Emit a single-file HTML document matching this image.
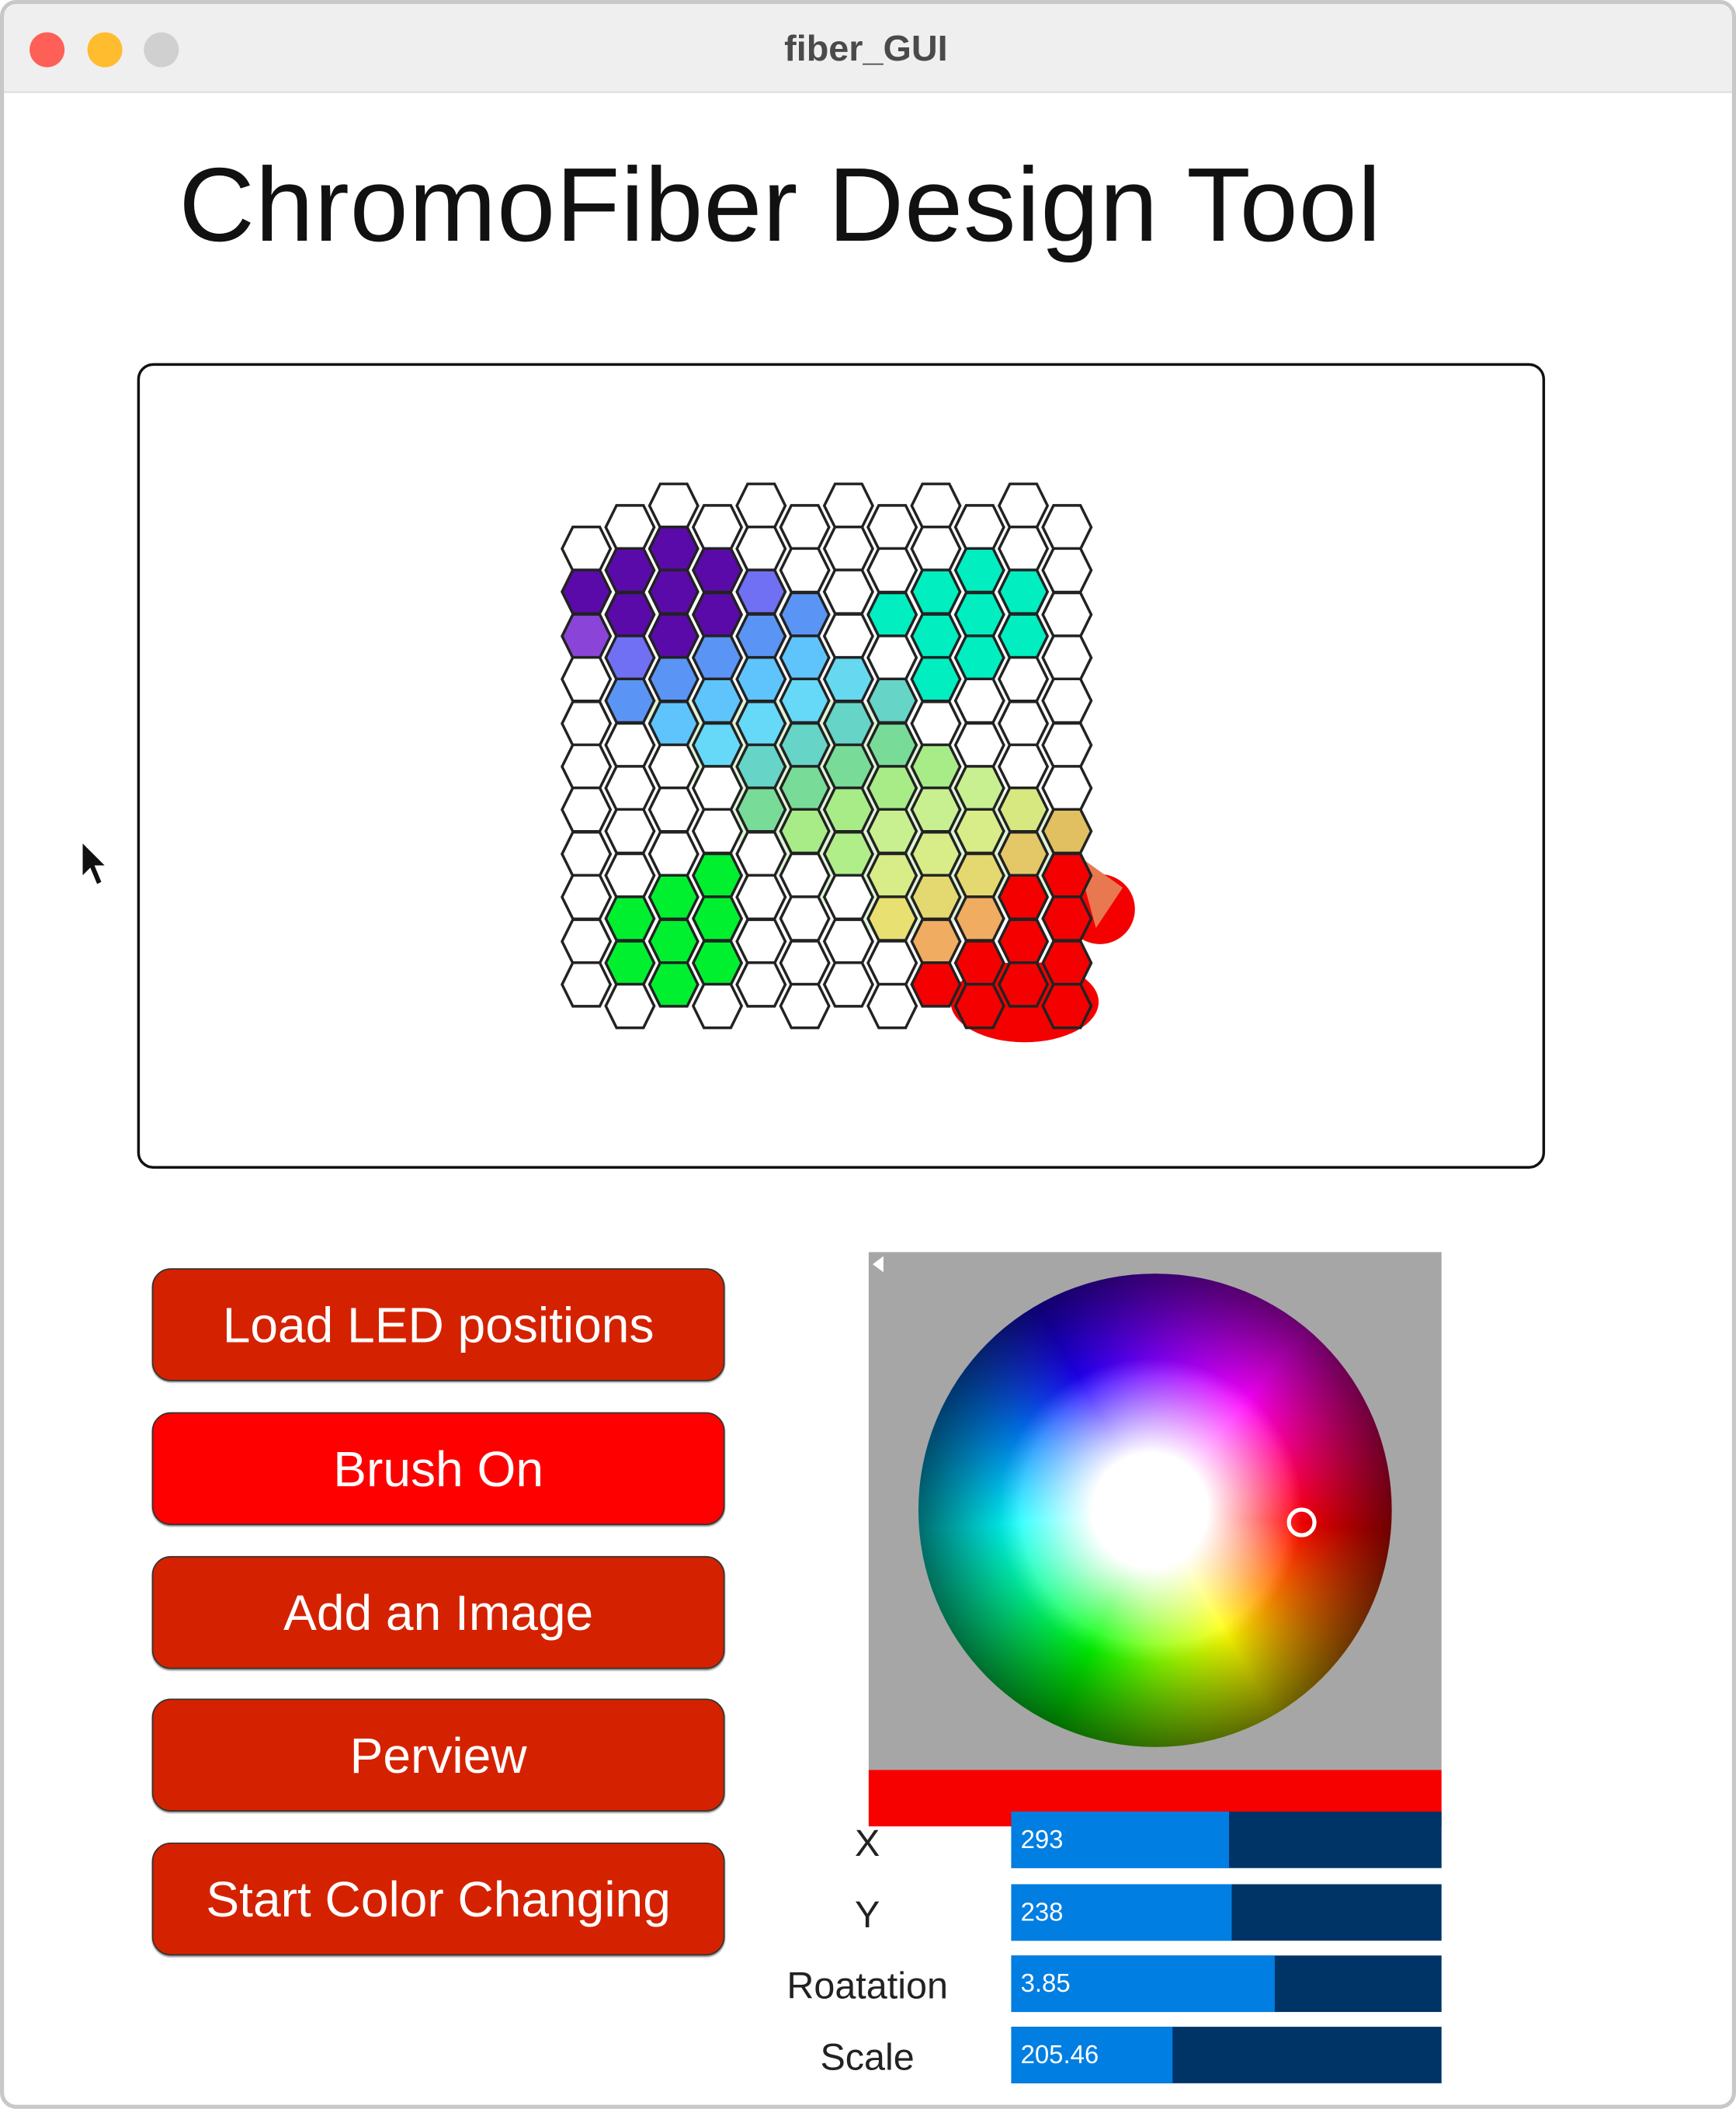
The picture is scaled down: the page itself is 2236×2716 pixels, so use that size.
<!DOCTYPE html>
<html><head><meta charset="utf-8">
<style>
html,body{margin:0;padding:0;background:#fff;}
body{width:2236px;height:2716px;overflow:hidden;position:relative;}
#w{position:absolute;left:0;top:0;width:1291px;height:1568px;transform:scale(1.73199);transform-origin:0 0;font-family:"Liberation Sans",sans-serif;}
.a{position:absolute;}
.btn{position:absolute;left:113px;width:426px;height:84px;border:1.5px solid #333;border-radius:14px;background:#d42200;color:#fff;font-size:37px;text-align:center;line-height:84px;box-sizing:border-box;box-shadow:0 1px 1px rgba(0,0,0,.4);}
.lab{position:absolute;width:200px;left:545px;text-align:center;font-size:28px;color:#222;}
.sl{position:absolute;left:752px;width:320px;height:42px;background:#003366;}
.sl div{position:absolute;left:0;top:0;height:42px;background:#007ee2;}
.sl span{position:absolute;left:7px;top:11px;color:#fff;font-size:19px;}
</style></head><body>
<div id="w">
 <div class="a" style="left:0;top:0;width:1291px;height:1568px;border:3px solid #c8c8c8;border-radius:12px;box-sizing:border-box;background:#fff;"></div>
 <div class="a" style="left:3px;top:3px;width:1285px;height:65px;background:#efefef;border-bottom:1px solid #d8d8d8;border-radius:10px 10px 0 0;"></div>
 <div class="a" style="left:22px;top:24px;width:26px;height:26px;border-radius:50%;background:#fe5f57;"></div>
 <div class="a" style="left:65px;top:24px;width:26px;height:26px;border-radius:50%;background:#febc2e;"></div>
 <div class="a" style="left:107px;top:24px;width:26px;height:26px;border-radius:50%;background:#d0d0d0;"></div>
 <div class="a" style="left:444px;top:21px;width:400px;text-align:center;font-size:27px;font-weight:bold;color:#4a4a4a;">fiber_GUI</div>
 <div class="a" style="left:133px;top:107px;font-size:78px;letter-spacing:0.5px;color:#111;white-space:nowrap;">ChromoFiber Design Tool</div>
 <div class="a" style="left:102px;top:270px;width:1047px;height:599px;border:2px solid #111;border-radius:12px;box-sizing:border-box;"></div>
 <svg class="a" style="left:0;top:0" width="1291" height="1568" viewBox="0 0 1291 1568">
  <defs><polygon id="h" points="-18,0 -10,-16.2 10,-16.2 18,0 10,16.2 -10,16.2" stroke="#222" stroke-width="2"/></defs>
  <circle cx="818" cy="676" r="26" fill="#f40000"/>
  <path d="M800 635 L835 660 L815 690 Z" fill="#e87850"/>
  <ellipse cx="762" cy="745" rx="55" ry="30" fill="#f40000"/>
  <path d="M470 520 L640 520 L720 580 L800 610 L800 660 L660 700 L560 640 L500 560 Z" fill="#bfeab0" opacity=".5"/>
  <g>
  <use href="#h" x="436" y="408" fill="#fff"/><use href="#h" x="436" y="440" fill="#5a0aa8"/><use href="#h" x="436" y="473" fill="#8a44d8"/><use href="#h" x="436" y="505" fill="#fff"/><use href="#h" x="436" y="538" fill="#fff"/><use href="#h" x="436" y="570" fill="#fff"/><use href="#h" x="436" y="602" fill="#fff"/><use href="#h" x="436" y="635" fill="#fff"/><use href="#h" x="436" y="667" fill="#fff"/><use href="#h" x="436" y="700" fill="#fff"/><use href="#h" x="436" y="732" fill="#fff"/>
  <use href="#h" x="468.5" y="392" fill="#fff"/><use href="#h" x="468.5" y="424" fill="#5a0aa8"/><use href="#h" x="468.5" y="457" fill="#5a0aa8"/><use href="#h" x="468.5" y="489" fill="#7070f4"/><use href="#h" x="468.5" y="521" fill="#5a94f4"/><use href="#h" x="468.5" y="554" fill="#fff"/><use href="#h" x="468.5" y="586" fill="#fff"/><use href="#h" x="468.5" y="618" fill="#fff"/><use href="#h" x="468.5" y="651" fill="#fff"/><use href="#h" x="468.5" y="683" fill="#00f030"/><use href="#h" x="468.5" y="716" fill="#00f030"/><use href="#h" x="468.5" y="748" fill="#fff"/>
  <use href="#h" x="501" y="376" fill="#fff"/><use href="#h" x="501" y="408" fill="#5a0aa8"/><use href="#h" x="501" y="440" fill="#5a0aa8"/><use href="#h" x="501" y="473" fill="#5a0aa8"/><use href="#h" x="501" y="505" fill="#5a94f4"/><use href="#h" x="501" y="538" fill="#5ec4fb"/><use href="#h" x="501" y="570" fill="#fff"/><use href="#h" x="501" y="602" fill="#fff"/><use href="#h" x="501" y="635" fill="#fff"/><use href="#h" x="501" y="667" fill="#00f030"/><use href="#h" x="501" y="700" fill="#00f030"/><use href="#h" x="501" y="732" fill="#00f030"/>
  <use href="#h" x="533.5" y="392" fill="#fff"/><use href="#h" x="533.5" y="424" fill="#5a0aa8"/><use href="#h" x="533.5" y="457" fill="#5a0aa8"/><use href="#h" x="533.5" y="489" fill="#5a94f4"/><use href="#h" x="533.5" y="521" fill="#5ec4fb"/><use href="#h" x="533.5" y="554" fill="#66d8f8"/><use href="#h" x="533.5" y="586" fill="#fff"/><use href="#h" x="533.5" y="618" fill="#fff"/><use href="#h" x="533.5" y="651" fill="#00f030"/><use href="#h" x="533.5" y="683" fill="#00f030"/><use href="#h" x="533.5" y="716" fill="#00f030"/><use href="#h" x="533.5" y="748" fill="#fff"/>
  <use href="#h" x="566" y="376" fill="#fff"/><use href="#h" x="566" y="408" fill="#fff"/><use href="#h" x="566" y="440" fill="#7070f4"/><use href="#h" x="566" y="473" fill="#5a94f4"/><use href="#h" x="566" y="505" fill="#5ec4fb"/><use href="#h" x="566" y="538" fill="#66d8f8"/><use href="#h" x="566" y="570" fill="#66d4c6"/><use href="#h" x="566" y="602" fill="#78dc98"/><use href="#h" x="566" y="635" fill="#fff"/><use href="#h" x="566" y="667" fill="#fff"/><use href="#h" x="566" y="700" fill="#fff"/><use href="#h" x="566" y="732" fill="#fff"/>
  <use href="#h" x="598.5" y="392" fill="#fff"/><use href="#h" x="598.5" y="424" fill="#fff"/><use href="#h" x="598.5" y="457" fill="#5a94f4"/><use href="#h" x="598.5" y="489" fill="#5ec4fb"/><use href="#h" x="598.5" y="521" fill="#66d8f8"/><use href="#h" x="598.5" y="554" fill="#66d4c6"/><use href="#h" x="598.5" y="586" fill="#78dc98"/><use href="#h" x="598.5" y="618" fill="#a8ec88"/><use href="#h" x="598.5" y="651" fill="#fff"/><use href="#h" x="598.5" y="683" fill="#fff"/><use href="#h" x="598.5" y="716" fill="#fff"/><use href="#h" x="598.5" y="748" fill="#fff"/>
  <use href="#h" x="631" y="376" fill="#fff"/><use href="#h" x="631" y="408" fill="#fff"/><use href="#h" x="631" y="440" fill="#fff"/><use href="#h" x="631" y="473" fill="#fff"/><use href="#h" x="631" y="505" fill="#66d8f0"/><use href="#h" x="631" y="538" fill="#66d4c6"/><use href="#h" x="631" y="570" fill="#78dc98"/><use href="#h" x="631" y="602" fill="#a8ec88"/><use href="#h" x="631" y="635" fill="#b0ee8a"/><use href="#h" x="631" y="667" fill="#fff"/><use href="#h" x="631" y="700" fill="#fff"/><use href="#h" x="631" y="732" fill="#fff"/>
  <use href="#h" x="663.5" y="392" fill="#fff"/><use href="#h" x="663.5" y="424" fill="#fff"/><use href="#h" x="663.5" y="457" fill="#00eec0"/><use href="#h" x="663.5" y="489" fill="#fff"/><use href="#h" x="663.5" y="521" fill="#66d4c6"/><use href="#h" x="663.5" y="554" fill="#78dc98"/><use href="#h" x="663.5" y="586" fill="#a8ec88"/><use href="#h" x="663.5" y="618" fill="#c8f090"/><use href="#h" x="663.5" y="651" fill="#d8ec88"/><use href="#h" x="663.5" y="683" fill="#e8e070"/><use href="#h" x="663.5" y="716" fill="#fff"/><use href="#h" x="663.5" y="748" fill="#fff"/>
  <use href="#h" x="696" y="376" fill="#fff"/><use href="#h" x="696" y="408" fill="#fff"/><use href="#h" x="696" y="440" fill="#00eec0"/><use href="#h" x="696" y="473" fill="#00eec0"/><use href="#h" x="696" y="505" fill="#00eec0"/><use href="#h" x="696" y="538" fill="#fff"/><use href="#h" x="696" y="570" fill="#a8ec88"/><use href="#h" x="696" y="602" fill="#c8f090"/><use href="#h" x="696" y="635" fill="#d8ec88"/><use href="#h" x="696" y="667" fill="#e4d870"/><use href="#h" x="696" y="700" fill="#f0ac60"/><use href="#h" x="696" y="732" fill="#f40000"/>
  <use href="#h" x="728.5" y="392" fill="#fff"/><use href="#h" x="728.5" y="424" fill="#00eec0"/><use href="#h" x="728.5" y="457" fill="#00eec0"/><use href="#h" x="728.5" y="489" fill="#00eec0"/><use href="#h" x="728.5" y="521" fill="#fff"/><use href="#h" x="728.5" y="554" fill="#fff"/><use href="#h" x="728.5" y="586" fill="#c8f090"/><use href="#h" x="728.5" y="618" fill="#d8ec88"/><use href="#h" x="728.5" y="651" fill="#e4d870"/><use href="#h" x="728.5" y="683" fill="#f0ac60"/><use href="#h" x="728.5" y="716" fill="#f40000"/><use href="#h" x="728.5" y="748" fill="#f40000"/>
  <use href="#h" x="761" y="376" fill="#fff"/><use href="#h" x="761" y="408" fill="#fff"/><use href="#h" x="761" y="440" fill="#00eec0"/><use href="#h" x="761" y="473" fill="#00eec0"/><use href="#h" x="761" y="505" fill="#fff"/><use href="#h" x="761" y="538" fill="#fff"/><use href="#h" x="761" y="570" fill="#fff"/><use href="#h" x="761" y="602" fill="#d8e880"/><use href="#h" x="761" y="635" fill="#e4c868"/><use href="#h" x="761" y="667" fill="#f40000"/><use href="#h" x="761" y="700" fill="#f40000"/><use href="#h" x="761" y="732" fill="#f40000"/>
  <use href="#h" x="793.5" y="392" fill="#fff"/><use href="#h" x="793.5" y="424" fill="#fff"/><use href="#h" x="793.5" y="457" fill="#fff"/><use href="#h" x="793.5" y="489" fill="#fff"/><use href="#h" x="793.5" y="521" fill="#fff"/><use href="#h" x="793.5" y="554" fill="#fff"/><use href="#h" x="793.5" y="586" fill="#fff"/><use href="#h" x="793.5" y="618" fill="#e0c060"/><use href="#h" x="793.5" y="651" fill="#f40000"/><use href="#h" x="793.5" y="683" fill="#f40000"/><use href="#h" x="793.5" y="716" fill="#f40000"/><use href="#h" x="793.5" y="748" fill="#f40000"/>
  </g>
  <path d="M61 626 L61 652 L67 646 L72 658 L76 656 L71 644 L79 644 Z" fill="#111" stroke="#fff" stroke-width="1"/>
 </svg>

 <div class="btn" style="top:943px;">Load LED positions</div>
 <div class="btn" style="top:1050px;background:#fe0000;">Brush On</div>
 <div class="btn" style="top:1157px;">Add an Image</div>
 <div class="btn" style="top:1263px;">Perview</div>
 <div class="btn" style="top:1370px;">Start Color Changing</div>

 <div class="a" style="left:646px;top:931px;width:426px;height:385px;background:#a6a6a6;"></div>
 <div class="a" style="left:649px;top:934px;width:0;height:0;border-top:6px solid transparent;border-bottom:6px solid transparent;border-right:8px solid #fff;"></div>
 <div class="a" style="left:683px;top:947px;width:352px;height:352px;border-radius:50%;background:conic-gradient(from 0deg,#8000ff 0deg,#ff00ff 40deg,#ff0070 70deg,#ff0000 95deg,#ff8000 125deg,#ffff00 150deg,#80ff00 180deg,#00ff00 205deg,#00ff90 235deg,#00ffff 265deg,#0080ff 300deg,#2000ff 330deg,#8000ff 360deg);"></div>
 <div class="a" style="left:683px;top:947px;width:352px;height:352px;border-radius:50%;background:radial-gradient(circle at 49% 50%,#fff 0,#fff 17%,rgba(255,255,255,0) 45%);"></div>
 <div class="a" style="left:683px;top:947px;width:352px;height:352px;border-radius:50%;background:radial-gradient(circle,rgba(0,0,0,0) 40%,rgba(0,0,0,.65) 75%,#000 97%);"></div>
 <div class="a" style="left:957px;top:1121px;width:22px;height:22px;border:3.5px solid #fff;border-radius:50%;box-sizing:border-box;"></div>
 <div class="a" style="left:646px;top:1316px;width:426px;height:42px;background:#f60000;"></div>

 <div class="sl" style="top:1347px;"><div style="width:162px"></div><span>293</span></div>
 <div class="sl" style="top:1401px;"><div style="width:164px"></div><span>238</span></div>
 <div class="sl" style="top:1454px;"><div style="width:196px"></div><span>3.85</span></div>
 <div class="sl" style="top:1507px;"><div style="width:120px"></div><span>205.46</span></div>
 <div class="lab" style="top:1355px;">X</div>
 <div class="lab" style="top:1408px;">Y</div>
 <div class="lab" style="top:1461px;">Roatation</div>
 <div class="lab" style="top:1514px;">Scale</div>
</div>
</body></html>
